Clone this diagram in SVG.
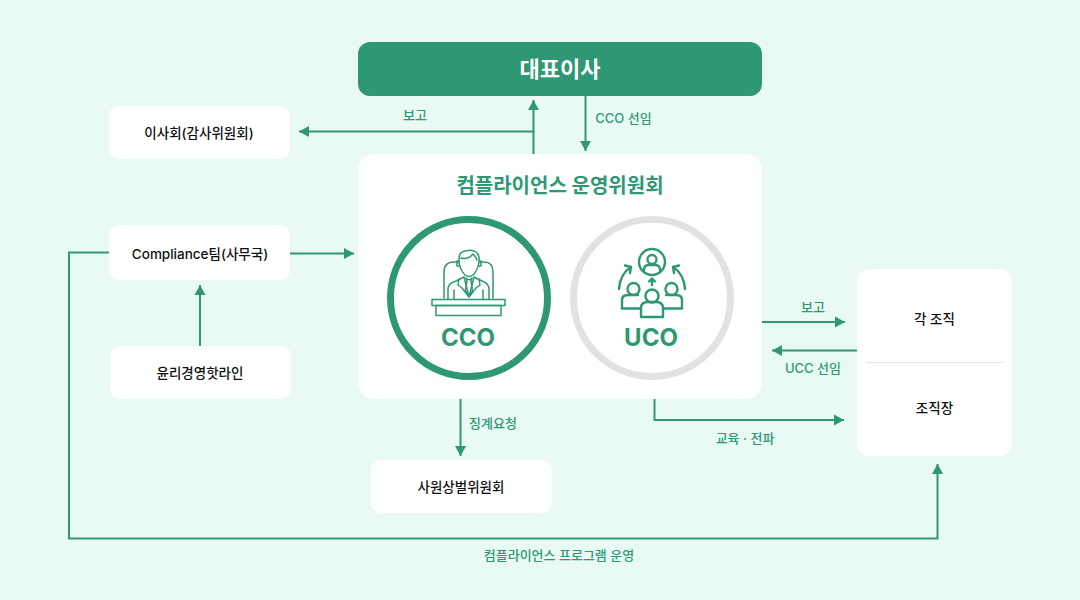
<svg xmlns="http://www.w3.org/2000/svg" width="1080" height="600" viewBox="0 0 1080 600">
<style>
text{font-family:"Inter","Noto Sans CJK KR","Noto Sans",sans-serif;text-anchor:middle}
.box{fill:#fff}
.t{font-size:13.500px;font-weight:500;fill:#111}
.g{font-size:13px;font-weight:500;fill:#2e9874}
.c{fill:none;stroke:#2e9874;stroke-width:2}
.ic{fill:none;stroke:#2e9874;stroke-width:1.5;stroke-linejoin:round;stroke-linecap:round}
.ig{fill:none;stroke:#2e9874;stroke-width:2.4;stroke-linejoin:round;stroke-linecap:round}
.big{font-size:24px;font-weight:700;fill:#2e9874}
</style>
<defs><marker id="a" markerUnits="userSpaceOnUse" markerWidth="12" markerHeight="12" refX="11" refY="6" orient="auto"><path d="M1 .5L11 6L1 11.500Z" fill="#2e9874"/></marker></defs>
<rect width="1080" height="600" fill="#e8faf3"/>
<g id="connectors">
<path class="c" marker-end="url(#a)" d="M533.500 154V100"/>
<path class="c" marker-end="url(#a)" d="M533.500 131.500H299"/>
<path class="c" marker-end="url(#a)" d="M585.500 95V151"/>
<path class="c" marker-end="url(#a)" d="M290 253.500H354"/>
<path class="c" marker-end="url(#a)" d="M200 346V285"/>
<path class="c" marker-end="url(#a)" d="M762 322H845"/>
<path class="c" marker-end="url(#a)" d="M857 350.500H772"/>
<path class="c" marker-end="url(#a)" d="M654.500 399V420H844"/>
<path class="c" marker-end="url(#a)" d="M460.500 399V456"/>
<path class="c" marker-end="url(#a)" d="M109 252.500H69V538.500H937.500V464"/>
</g>
<g id="ceo"><rect x="358" y="42" width="404" height="54" rx="12" fill="#2e9874"/><text x="560" y="76.500" font-size="22" font-weight="700" fill="#fff">대표이사</text></g>
<g id="board"><rect class="box" x="109" y="106" width="181" height="53" rx="10"/><text class="t" x="199" y="138">이사회(감사위원회)</text></g>
<g id="team"><rect class="box" x="109" y="225" width="181" height="55" rx="10"/><text class="t" x="200" y="258.500">Compliance팀(사무국)</text></g>
<g id="hotline"><rect class="box" x="110" y="346" width="181" height="53" rx="10"/><text class="t" x="200" y="378">윤리경영핫라인</text></g>
<g id="discipline"><rect class="box" x="371" y="460" width="181" height="53" rx="10"/><text class="t" x="461" y="492">사원상벌위원회</text></g>
<g id="org"><rect class="box" x="857" y="269" width="155" height="187" rx="12"/><path d="M866 362.500H1004" stroke="#e6e6e6"/><text class="t" x="934.500" y="323.500">각 조직</text><text class="t" x="934.500" y="412.500">조직장</text></g>
<g id="committee"><rect class="box" x="358" y="154" width="404" height="245" rx="16"/><text x="560" y="192.500" font-size="20" font-weight="700" fill="#2e9874">컴플라이언스 운영위원회</text></g>
<g id="cco">
<circle cx="469" cy="298" r="78.500" fill="#fff" stroke="#2e9874" stroke-width="7"/>
<path class="ic" d="M444 298V272Q444 262 454 262H459M479 262H484Q493 262 493 272V298"/>
<path class="ic" d="M448 299V288Q449 283 456 281L464 277L469 297L474 277L482 281Q488 283 489 288V299M454 299V290M483 299V290M459 279L458 285L462 288L469 297L476 288L480 285L479 279"/>
<path class="ic" d="M459 262Q458 252 465 251Q472 249 476 252Q480 255 479 262Q478 270 473 275Q469 278 465 275Q460 270 459 262ZM461 258Q468 260 473 254Q476 257 477 260M459 261H457V266H460M479 261H481V266H478M466 278L469 280L472 278L471 281L472.500 291L469 296L465.500 291L467 281Z"/>
<rect class="ic" x="432" y="299.500" width="73" height="6"/>
<rect class="ic" x="436" y="305.500" width="65" height="10"/>
<text class="big" x="468" y="345.500">CCO</text>
</g>
<g id="uco">
<circle cx="652" cy="298" r="78.500" fill="#fff" stroke="#e2e2e2" stroke-width="7"/>
<circle class="ig" cx="652" cy="262" r="13"/>
<circle class="ig" cx="652" cy="259.500" r="4.500"/>
<path class="ig" d="M644 272Q643 265 649 265H655Q661 265 660 272"/>
<path class="ig" d="M652 285V279M649 281.500L652 278.500L655 281.500"/>
<path class="ig" d="M619 289Q620 274 631 267M625 265.500L631 267L630 273"/>
<path class="ig" d="M685 289Q684 274 673 267M679 265.500L673 267L674 273"/>
<circle class="ig" cx="633.500" cy="289" r="6"/><circle class="ig" cx="671.500" cy="289" r="6"/>
<path class="ig" d="M641 308.500H622V300Q622 295 628 295H638M663 308.500H682V300Q682 295 676 295H666"/>
<circle class="ig" cx="652" cy="296" r="6.500"/>
<path class="ig" d="M641 317V308Q641 302 648 302H656Q663 302 663 308V317Z"/>
<text class="big" x="651" y="345.500">UCO</text>
</g>
<g id="labels">
<text class="g" x="415" y="120">보고</text>
<text class="g" x="623.500" y="122.500">CCO 선임</text>
<text class="g" x="813" y="311.500">보고</text>
<text class="g" x="813" y="373">UCC 선임</text>
<text class="g" x="745" y="443">교육 · 전파</text>
<text class="g" x="493" y="428">징계요청</text>
<text class="g" x="559" y="559.500">컴플라이언스 프로그램 운영</text>
</g>
</svg>
